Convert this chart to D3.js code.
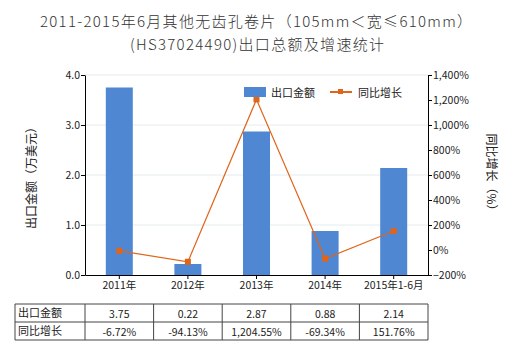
<!DOCTYPE html>
<html><head><meta charset="utf-8">
<script src="https://cdn.jsdelivr.net/npm/d3@7"></script>
<style>body{margin:0;background:#fff;} svg{font-family:"Noto Sans CJK SC","Noto Sans",sans-serif;}</style>
</head><body>
<svg id="c" width="520" height="350"></svg>
<script>
const categories = ["2011年","2012年","2013年","2014年","2015年1-6月"];
const exportValues = [3.75, 0.22, 2.87, 0.88, 2.14];
const growthValues = [-6.72, -94.13, 1204.55, -69.34, 151.76];
const exportLabels = ["3.75","0.22","2.87","0.88","2.14"];
const growthLabels = ["-6.72%","-94.13%","1,204.55%","-69.34%","151.76%"];
const leftTicks = [0,1,2,3,4];
const rightTicks = [-200,0,200,400,600,800,1000,1200,1400];

const svg = d3.select("#c");
const L = 85, R = 428, T = 75, B = 275;
const barColor = "#4f87d3", lineColor = "#e0651b";

const xb = d3.scaleBand().domain(categories).range([L, R]);
const yL = d3.scaleLinear().domain([0,4]).range([B, T]);
const yR = d3.scaleLinear().domain([-200,1400]).range([B, T]);

// title
svg.append("text").attr("x",256).attr("y",27).attr("text-anchor","middle").attr("font-size",15).attr("fill","#333")
  .attr("font-weight",300).attr("textLength",432).attr("lengthAdjust","spacing")
  .text("2011-2015年6月其他无齿孔卷片（105mm＜宽≤610mm）");
svg.append("text").attr("x",257).attr("y",50).attr("text-anchor","middle").attr("font-size",15).attr("fill","#333")
  .attr("font-weight",300).attr("textLength",254).attr("lengthAdjust","spacing")
  .text("(HS37024490)出口总额及增速统计");

// grid
svg.append("g").selectAll("line").data(leftTicks.slice(1)).join("line")
  .attr("x1",L).attr("x2",R).attr("y1",d=>yL(d)).attr("y2",d=>yL(d)).attr("stroke","#e4ecef");

// bars
svg.append("g").selectAll("rect").data(exportValues).join("rect")
  .attr("x",(d,i)=>xb(categories[i]) + xb.bandwidth()/2 - 13.5).attr("width",27)
  .attr("y",d=>yL(d)).attr("height",d=>B-yL(d)).attr("fill",barColor);

// line
const line = d3.line().x((d,i)=>xb(categories[i])+xb.bandwidth()/2).y(d=>yR(d));
svg.append("path").datum(growthValues).attr("d",line).attr("fill","none").attr("stroke",lineColor).attr("stroke-width",1.2);
svg.append("g").selectAll("rect").data(growthValues).join("rect")
  .attr("x",(d,i)=>xb(categories[i])+xb.bandwidth()/2-3).attr("y",d=>yR(d)-3)
  .attr("width",6).attr("height",6).attr("fill",lineColor);

// axes
const axL = svg.append("g").attr("transform",`translate(${L},0)`)
  .call(d3.axisLeft(yL).tickValues(leftTicks).tickFormat(d3.format(".1f")).tickSize(4).tickSizeOuter(0));
const axR = svg.append("g").attr("transform",`translate(${R},0)`)
  .call(d3.axisRight(yR).tickValues(rightTicks).tickFormat(d=>d3.format(",")(d)+"%").tickSize(4).tickSizeOuter(0));
const axB = svg.append("g").attr("transform",`translate(0,${B})`)
  .call(d3.axisBottom(xb).tickSize(4).tickSizeOuter(0));
[axL,axR,axB].forEach(a=>{
  a.selectAll("path,line").attr("stroke","#000");
  a.selectAll("text").attr("font-size",10.5).attr("fill","#222").attr("font-family","'Noto Sans CJK SC',sans-serif");
});
axL.selectAll("text").attr("x",-5);
axR.selectAll("text").attr("x",5);
axB.selectAll("text").attr("y",7);

// axis titles
svg.append("text").attr("transform","translate(36,175) rotate(-90)").attr("text-anchor","middle")
  .attr("font-size",12).attr("fill","#222").text("出口金额（万美元）");
svg.append("text").attr("transform","translate(487,175) rotate(90)").attr("text-anchor","middle")
  .attr("font-size",12).attr("fill","#222").text("同比增长（%）");

// legend
svg.append("rect").attr("x",244).attr("y",87).attr("width",22).attr("height",10).attr("fill",barColor);
svg.append("text").attr("x",271).attr("y",96.5).attr("font-size",11).attr("fill","#222").text("出口金额");
svg.append("line").attr("x1",330).attr("x2",352).attr("y1",92).attr("y2",92).attr("stroke",lineColor).attr("stroke-width",2);
svg.append("rect").attr("x",338).attr("y",89).attr("width",5).attr("height",5).attr("fill",lineColor);
svg.append("text").attr("x",358).attr("y",96.5).attr("font-size",11).attr("fill","#222").text("同比增长");

// table
const tT = 304, rowH = 18, tL = 15;
const tbl = svg.append("g");
const cols = [tL].concat(categories.map(c=>xb(c))).concat([R]);
[tT, tT+rowH, tT+2*rowH].forEach(y=>tbl.append("line").attr("x1",tL).attr("x2",R).attr("y1",y).attr("y2",y).attr("stroke","#444"));
cols.forEach(cx=>tbl.append("line").attr("x1",cx).attr("x2",cx).attr("y1",tT).attr("y2",tT+2*rowH).attr("stroke","#444"));
tbl.append("text").attr("x",tL+3).attr("y",tT+13).attr("font-size",11).attr("fill","#222").text("出口金额");
tbl.append("text").attr("x",tL+3).attr("y",tT+rowH+13).attr("font-size",11).attr("fill","#222").text("同比增长");
categories.forEach((c,i)=>{
  const cx = xb(c)+xb.bandwidth()/2;
  tbl.append("text").attr("x",cx).attr("y",tT+14).attr("text-anchor","middle").attr("font-size",10.5).attr("fill","#222").text(exportLabels[i]);
  tbl.append("text").attr("x",cx).attr("y",tT+rowH+14).attr("text-anchor","middle").attr("font-size",10.5).attr("fill","#222").text(growthLabels[i]);
});
</script>
</body></html>
